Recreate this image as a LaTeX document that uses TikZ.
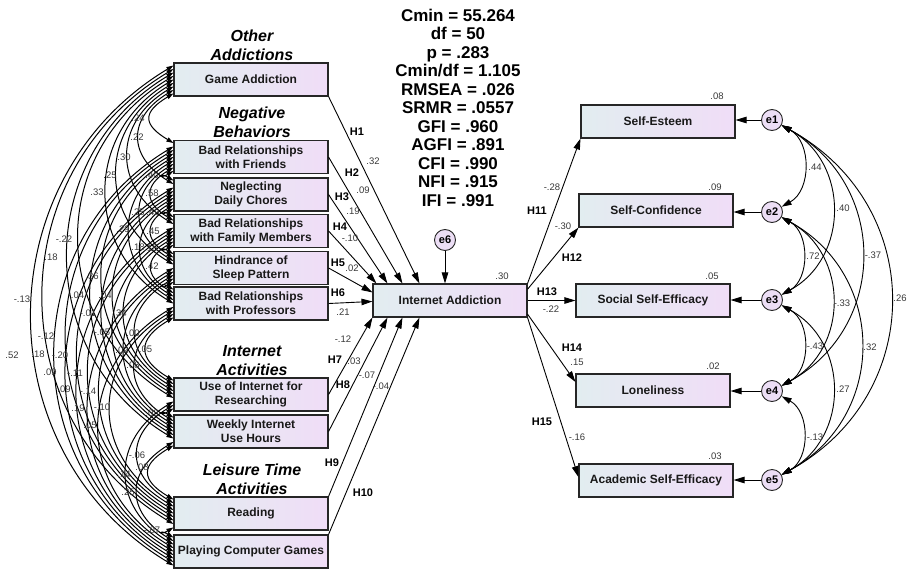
\documentclass[tikz,border=0pt]{standalone}
\usepackage{fontspec}
\setmainfont{Liberation Sans}
\usetikzlibrary{arrows.meta,calc}
\definecolor{boxL}{RGB}{226,237,240}
\definecolor{boxR}{RGB}{240,221,247}
\definecolor{errC}{RGB}{236,222,245}
\begin{document}
\begin{tikzpicture}[x=1pt,y=-1pt,
  box/.style={draw=black!85, line width=1.1pt, left color=boxL, right color=boxR,
    minimum width=154pt, minimum height=33pt, inner xsep=1pt, inner ysep=1pt, align=center,
    font=\fontsize{12}{14}\selectfont\bfseries, text=black!90},
  err/.style={circle, draw=black!85, line width=0.9pt, fill=errC, minimum size=21pt, inner sep=0pt,
    font=\fontsize{11}{12}\selectfont\bfseries},
  coef/.style={font=\fontsize{9.5}{10}\selectfont, text=black!78, inner sep=0pt},
  hyp/.style={font=\fontsize{11}{12}\selectfont\bfseries, inner sep=0pt},
  grp/.style={font=\fontsize{16}{19}\selectfont\bfseries\itshape, align=center, inner sep=0pt},
  stat/.style={font=\fontsize{17}{19}\selectfont\bfseries, inner sep=0pt, text height=12.3pt, text depth=0pt},
  reg/.style={line width=0.9pt, -{Triangle[length=11pt,width=6.5pt]}},
  cov/.style={line width=1pt, {Triangle[length=7pt,width=4.5pt]}-{Triangle[length=7pt,width=4.5pt]}},
  rcov/.style={line width=0.9pt, {Triangle[length=10pt,width=6pt]}-{Triangle[length=10pt,width=6pt]}}]
\useasboundingbox (0,0) rectangle (910,570);

% ---------- left boxes ----------
\node[box] (b1) at (251,79.5) {Game Addiction};
\node[box] (b2) at (251,157) {Bad Relationships\\with Friends};
\node[box] (b3) at (251,194.5) {Neglecting\\Daily Chores};
\node[box] (b4) at (251,231) {Bad Relationships\\with Family Members};
\node[box] (b5) at (251,268) {Hindrance of\\Sleep Pattern};
\node[box] (b6) at (251,303.5) {Bad Relationships\\with Professors};
\node[box] (b7) at (251,394.5) {Use of Internet for\\Researching};
\node[box] (b8) at (251,431.5) {Weekly Internet\\Use Hours};
\node[box] (b9) at (251,513.5) {Reading};
\node[box] (b10) at (251,551.5) {Playing Computer Games};

% group headers
\node[grp] (g1) at (252,45.5) {Other\\Addictions};
\node[grp] (g2) at (252,122.5) {Negative\\Behaviors};
\node[grp] (g3) at (252,361) {Internet\\Activities};
\node[grp] (g4) at (252,479.5) {Leisure Time\\Activities};

% ---------- centre ----------
\node[box] (ia) at (450,300.5) {Internet Addiction};
\node[err] (e6) at (445,240) {e6};
\draw[reg] (e6) -- (e6 |- ia.north);

\foreach \lab [count=\k] in {Cmin = 55.264, df = 50, p = .283, Cmin/df = 1.105, RMSEA = .026,
  SRMR = .0557, GFI = .960, AGFI = .891, CFI = .990, NFI = .915, IFI = .991}
  \node[stat] (s\k) at (458,{15+18.5*(\k-1)}) {\lab};

% ---------- right boxes ----------
\node[box] (r1) at (658,121.5) {Self-Esteem};
\node[box] (r2) at (656,210.5) {Self-Confidence};
\node[box] (r3) at (653,300.5) {Social Self-Efficacy};
\node[box] (r4) at (653,390.5) {Loneliness};
\node[box] (r5) at (656,480.5) {Academic Self-Efficacy};
\node[err] (e1) at (772,120) {e1};
\node[err] (e2) at (772,212) {e2};
\node[err] (e3) at (772,300) {e3};
\node[err] (e4) at (772,391) {e4};
\node[err] (e5) at (772,480) {e5};
\foreach \n in {1,...,5} \draw[reg] (e\n) -- (e\n -| r\n.east);

% ---------- regression arrows into IA ----------
\coordinate (iaT1) at ($(ia.north west)+(47,0)$);
\coordinate (iaT2) at ($(ia.north west)+(30,0)$);
\coordinate (iaT3) at ($(ia.north west)+(15,0)$);
\coordinate (iaT4) at ($(ia.north west)+(4,0)$);
\coordinate (iaL1) at ($(ia.north west)+(0,9)$);
\coordinate (iaL2) at ($(ia.north west)+(0,18)$);
\coordinate (iaB1) at (ia.south west);
\coordinate (iaB2) at ($(ia.south west)+(15,0)$);
\coordinate (iaB3) at ($(ia.south west)+(30,0)$);
\coordinate (iaB4) at ($(ia.south west)+(47,0)$);
\draw[reg] (b1.south east) -- (iaT1);
\draw[reg] (b2.east) -- (iaT2);
\draw[reg] (b3.east) -- (iaT3);
\draw[reg] (b4.east) -- (iaT4);
\draw[reg] (b5.east) -- (iaL1);
\draw[reg] (b6.east) -- (iaL2);
\draw[reg] (b7.east) -- (iaB1);
\draw[reg] (b8.east) -- (iaB2);
\draw[reg] (b9.north east) -- (iaB3);
\draw[reg] (b10.north east) -- (iaB4);

% ---------- regression arrows out of IA ----------
\coordinate (iaR2) at ($(ia.north east)!0.17!(ia.south east)$);
\coordinate (iaR4) at ($(ia.north east)!0.9!(ia.south east)$);
\coordinate (r4W) at ($(r4.north west)!0.25!(r4.south west)$);
\coordinate (r5W) at ($(r5.north west)!0.4!(r5.south west)$);
\draw[reg] (ia.north east) -- (r1.south west);
\draw[reg] (iaR2) -- (r2.south west);
\draw[reg] (ia.east) -- (r3.west);
\draw[reg] (iaR4) -- (r4W);
\draw[reg] (ia.south east) -- (r5W);

% ---------- left covariances ----------
\def\yc{{79.5,157,194.5,231,268,303.5,394.5,431.5,513.5,551.5}}
\foreach \i in {1,...,9}{
  \pgfmathtruncatemacro\ip{\i+1}
  \foreach \j in {\ip,...,10}{
    \pgfmathsetmacro\myD{\yc[\j-1]-\yc[\i-1]}
    \pgfmathsetmacro\myA{0.4*\myD}
    \pgfmathsetmacro\myS{0.6*\myA}
    \pgfmathsetmacro\myTi{(3+(\i-1+10-\j)*27/8)/33}
    \pgfmathsetmacro\myTj{(3+(\j-1-\i)*27/8)/33}
    \draw[cov] ($(b\i.north west)!\myTi!(b\i.south west)$) .. controls +(-\myA,\myS) and +(-\myA,-\myS) .. ($(b\j.north west)!\myTj!(b\j.south west)$);
  }
}

% ---------- right covariances ----------
\def\ye{{120,212,300,391,480}}
\foreach \i in {1,...,4}{
  \pgfmathtruncatemacro\ip{\i+1}
  \foreach \j in {\ip,...,5}{
    \pgfmathsetmacro\myD{\ye[\j-1]-\ye[\i-1]}
    \pgfmathsetmacro\myA{0.43*\myD}
    \pgfmathsetmacro\myS{0.55*\myA}
    \draw[rcov] (e\i) .. controls +(\myA,\myS) and +(\myA,-\myS) .. (e\j);
  }
}

% ---------- labels ----------
\foreach \x/\y/\lab [count=\k] in {
  138/118/.24, 137/137/.22, 124/157/.30, 110/175/.25, 97/192/.33, 64/239/-.22, 51/257/.18,
  22/299/-.13, 12/355/.52, 152/175/.40, 152/193/.58, 138/212/.25, 153/212/.49, 123/229/.29,
  153/231/.45, 92/276/.36, 76/295/-.04, 46/336/-.12, 38/354/.18, 138/247/.18, 151/248/.15,
  152/266/.42, 105/295/.04, 88/313/-.01, 60/355/-.20, 50/372/.09, 120/313/.34, 102/332/-.05,
  75/373/-.11, 64/389/.09, 133/333/.00, 122/350/.02, 88/391/-.14, 78/408/.19, 144/349/-.05,
  133/365/.08, 102/407/-.10, 90/425/.05, 152/413/.03, 137/455/-.06, 124/474/.14, 142/467/.08,
  128/492/.25, 152/530/-.07}
  \node[coef] (lc\k) at (\x,\y) {\lab};

\foreach \x/\y/\lab [count=\k] in {
  373/161/.32, 363/190/.09, 353/211/.19, 350/238/-.10, 352/268/.02, 343/312/.21, 343/339/-.12,
  354/361/.03, 367/375/-.07, 381/386/-.04, 502/276/.30,
  552/187/-.28, 563/226/-.30, 551/309/-.22, 577/362/.15, 577/437/-.16,
  717/96/.08, 715/187/.09, 712/276/.05, 713/366/.02, 715/456/.03,
  815/167/.44, 843/208/.40, 873/255/-.37, 900/298/.26, 813/256/.72, 842/303/-.33,
  870/347/.32, 815/346/-.43, 843/389/.27, 815/437/-.13}
  \node[coef] (rc\k) at (\x,\y) {\lab};

\foreach \x/\y/\lab [count=\k] in {
  357/132/H1, 352/173/H2, 342/197/H3, 340/227/H4, 338/263/H5, 338/293/H6, 335/360/H7,
  343/385/H8, 332/463/H9, 363/493/H10, 537/211/H11, 572/258/H12, 547/292/H13, 572/348/H14,
  542/422/H15}
  \node[hyp] (h\k) at (\x,\y) {\lab};
\end{tikzpicture}
\end{document}
